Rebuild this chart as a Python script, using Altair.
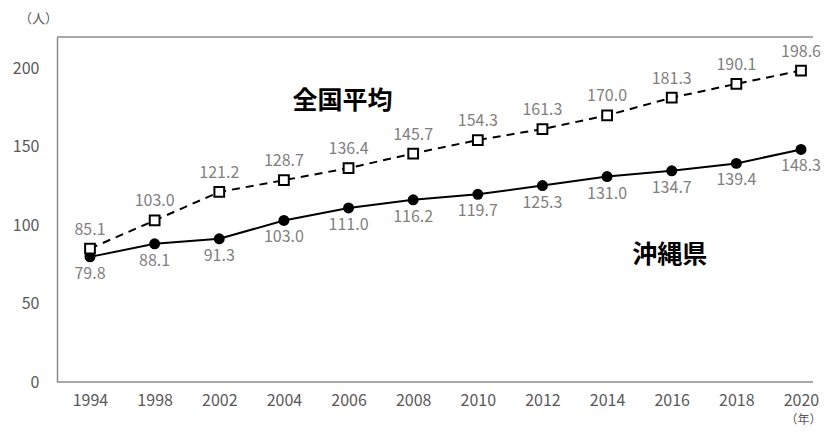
import altair as alt
import pandas as pd

years = ["1994", "1998", "2002", "2004", "2006", "2008", "2010", "2012", "2014", "2016", "2018", "2020"]
national = [85.1, 103.0, 121.2, 128.7, 136.4, 145.7, 154.3, 161.3, 170.0, 181.3, 190.1, 198.6]
okinawa = [79.8, 88.1, 91.3, 103.0, 111.0, 116.2, 119.7, 125.3, 131.0, 134.7, 139.4, 148.3]
ann_text = ["全国平均", "沖縄県"]
ann_year = ["2006", "2016"]
ann_val = [179, 81]
ann_dx = [-6, -2]

FONT = "Noto Sans CJK JP"
W, H = 756, 345
df = pd.DataFrame({"year": years, "national": national, "okinawa": okinawa})
df["nl"] = [f"{v:.1f}" for v in national]
df["ol"] = [f"{v:.1f}" for v in okinawa]

xenc = alt.X("year:O", sort=years,
             scale=alt.Scale(type="point", padding=0, range=[33, 744]),
             axis=alt.Axis(title="（年）", labelAngle=0, ticks=False, labelPadding=10, domain=False,
                           labelFontSize=16, labelColor="#595959", labelFont=FONT,
                           titleFont=FONT, titleFontSize=12, titleFontWeight="normal",
                           titleColor="#595959", titleAnchor="start", titleAlign="right",
                           titleX=W + 8, titleY=37, titleBaseline="middle"))
yscale = alt.Scale(domain=[0, 220], nice=False)
yaxis = alt.Axis(title="（人）", values=[0, 50, 100, 150, 200], grid=False, ticks=False,
                 labelPadding=18, labelFontSize=16, labelColor="#595959", labelFont=FONT,
                 domainColor="#8c8c8c", domainWidth=1.5,
                 titleFont=FONT, titleFontSize=13, titleFontWeight="normal", titleColor="#595959",
                 titleAngle=0, titleX=-19, titleY=-19, titleAlign="center", titleBaseline="middle")

base = alt.Chart(df)

frame = alt.Chart(pd.DataFrame({"v": [220, 0]})).mark_rule(color="#8c8c8c", strokeWidth=1.5).encode(
    y=alt.Y("v:Q", scale=yscale, axis=yaxis))

nat_line = base.mark_line(color="black", strokeWidth=2, strokeDash=[8, 6]).encode(
    x=xenc, y=alt.Y("national:Q", scale=yscale, axis=yaxis))
oki_line = base.mark_line(color="black", strokeWidth=2).encode(
    x=xenc, y=alt.Y("okinawa:Q", scale=yscale))
oki_pts = base.mark_point(shape="circle", filled=True, color="black", size=120, opacity=1).encode(
    x=xenc, y=alt.Y("okinawa:Q", scale=yscale))
nat_pts = base.mark_point(shape="square", filled=True, fill="white", stroke="black",
                          strokeWidth=2, size=95, opacity=1).encode(
    x=xenc, y=alt.Y("national:Q", scale=yscale))
nat_lbl = base.mark_text(dy=-19, fontSize=16, color="#7f7f7f", font=FONT).encode(
    x=xenc, y=alt.Y("national:Q", scale=yscale), text="nl:N")
oki_lbl = base.mark_text(dy=17, fontSize=16, color="#7f7f7f", font=FONT).encode(
    x=xenc, y=alt.Y("okinawa:Q", scale=yscale), text="ol:N")

ann_layers = []
for t, yr, v, dx in zip(ann_text, ann_year, ann_val, ann_dx):
    a = pd.DataFrame({"t": [t], "year": [yr], "v": [v]})
    ann_layers.append(
        alt.Chart(a).mark_text(fontSize=25, fontWeight="bold", color="black", font=FONT, dx=dx).encode(
            x=xenc, y=alt.Y("v:Q", scale=yscale), text="t:N"))

chart = alt.layer(frame, nat_line, oki_line, oki_pts, nat_pts, nat_lbl, oki_lbl, *ann_layers).properties(
    width=W, height=H,
    autosize=alt.AutoSizeParams(type="none"),
    padding={"left": 49, "top": 29, "right": 8, "bottom": 46},
).configure_view(stroke=None)

chart.save("out.html", embed_options={"renderer": "svg", "actions": False})
